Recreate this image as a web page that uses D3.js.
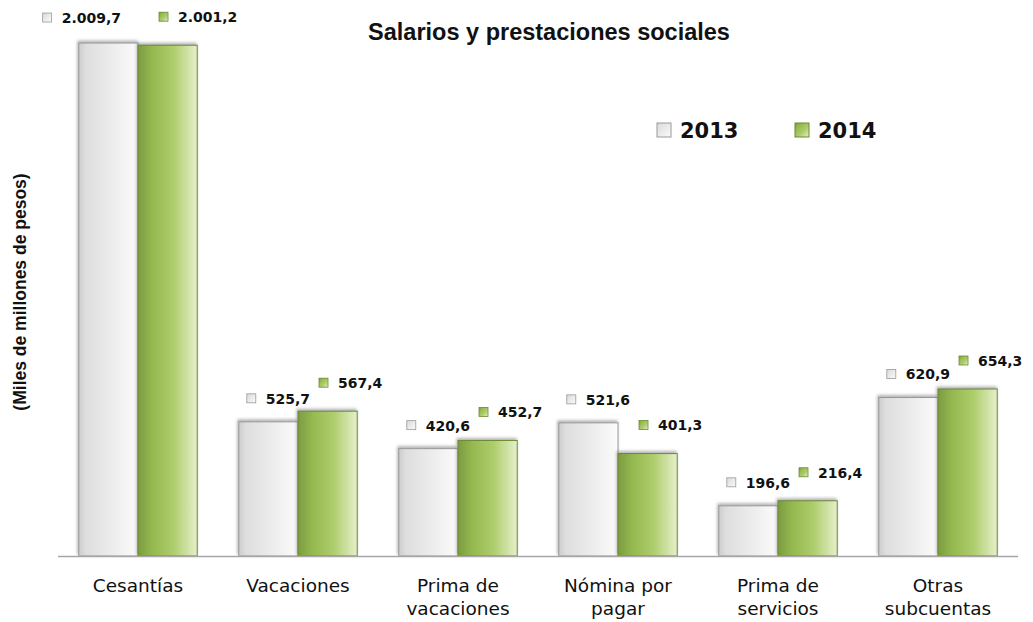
<!DOCTYPE html>
<html>
<head>
<meta charset="utf-8">
<script src="https://cdn.jsdelivr.net/npm/d3@7"></script>
<style>
  body { margin: 0; background: #fff; }
  text { font-family: "DejaVu Sans", Verdana, sans-serif; }
</style>
</head>
<body>
<div id="chart"></div>
<script>
// data
const categories = [
    ["Cesantías"],
    ["Vacaciones"],
    ["Prima de", "vacaciones"],
    ["Nómina por", "pagar"],
    ["Prima de", "servicios"],
    ["Otras", "subcuentas"]
];
const years = ["2013", "2014"];
const values2013 = [2009.7, 525.7, 420.6, 521.6, 196.6, 620.9];
const values2014 = [2001.2, 567.4, 452.7, 401.3, 216.4, 654.3];

const W = 1033, H = 622;
const margin = { top: 20, right: 15, bottom: 66, left: 58 };
const width = W - margin.left - margin.right;
const height = H - margin.top - margin.bottom;

// number format like 2.009,7
const esFormat = d3.formatLocale({ decimal: ",", thousands: ".", grouping: [3], currency: ["", ""] }).format(",.1f");

const svg = d3.select("#chart")
    .append("svg")
    .attr("width", W)
    .attr("height", H);

const defs = svg.append("defs");

// horizontal gradients for bars
const gradStops = {
    "2013": [["0%", "#cdcdcd"], ["12%", "#dedede"], ["55%", "#ececec"], ["100%", "#fbfbfb"]],
    "2014": [["0%", "#7c9c40"], ["25%", "#96b950"], ["60%", "#aecd6c"], ["100%", "#e6f0cc"]]
};
years.forEach(y => {
    const g = defs.append("linearGradient")
        .attr("id", "grad" + y)
        .attr("x1", "0").attr("x2", "1").attr("y1", "0").attr("y2", "0");
    gradStops[y].forEach(s => g.append("stop").attr("offset", s[0]).attr("stop-color", s[1]));
    const gi = defs.append("linearGradient")
        .attr("id", "icon" + y)
        .attr("x1", "0").attr("x2", "1").attr("y1", "0").attr("y2", "1");
    gradStops[y].forEach(s => gi.append("stop").attr("offset", s[0]).attr("stop-color", s[1]));
});
const strokeCol = { "2013": "#9a9a9a", "2014": "#6a8a34" };

// soft shadow along the top edge
const filt = defs.append("filter").attr("id", "shadow")
    .attr("x", "-10%").attr("y", "-10%").attr("width", "120%").attr("height", "120%");
filt.append("feDropShadow")
    .attr("dx", -1).attr("dy", -2).attr("stdDeviation", 1.5)
    .attr("flood-color", "#777").attr("flood-opacity", 0.55);

const g = svg.append("g").attr("transform", `translate(${margin.left}, ${margin.top})`);

const xScale = d3.scaleBand()
    .domain(d3.range(categories.length))
    .range([0, width])
    .paddingInner(0.26)
    .paddingOuter(0.13);

const xSub = d3.scaleBand()
    .domain(years)
    .range([0, xScale.bandwidth()]);

const yScale = d3.scaleLinear()
    .domain([0, 2100])
    .range([height, 0]);

const data = categories.map((c, i) => ({ i: i, vals: [
    { year: "2013", value: values2013[i] },
    { year: "2014", value: values2014[i] }
]}));

// bars
const groups = g.selectAll("g.cat")
    .data(data)
    .join("g")
    .attr("class", "cat")
    .attr("transform", d => `translate(${xScale(d.i)}, 0)`);

groups.selectAll("rect")
    .data(d => d.vals)
    .join("rect")
    .attr("x", d => xSub(d.year))
    .attr("y", d => yScale(d.value))
    .attr("width", xSub.bandwidth())
    .attr("height", d => height - yScale(d.value))
    .attr("fill", d => `url(#grad${d.year})`)
    .attr("stroke", d => strokeCol[d.year])
    .attr("stroke-width", 1)
    .attr("filter", "url(#shadow)");

// x axis line
g.append("line")
    .attr("x1", 0).attr("x2", width)
    .attr("y1", height + 0.5).attr("y2", height + 0.5)
    .attr("stroke", "#a6a6a6")
    .attr("stroke-width", 1.5);

// value labels: icon + number
const labelLift = { "2013": 23, "2014": 28 };
const labelShift = { "2013": 8, "2014": 21 };
const labels = groups.selectAll("g.lbl")
    .data(d => d.vals)
    .join("g")
    .attr("class", "lbl")
    .attr("transform", d => `translate(${xSub(d.year) + labelShift[d.year]}, ${yScale(d.value) - labelLift[d.year]})`);

labels.append("rect")
    .attr("x", 0).attr("y", -5)
    .attr("width", 9).attr("height", 9)
    .attr("fill", d => `url(#icon${d.year})`)
    .attr("stroke", d => strokeCol[d.year])
    .attr("stroke-width", 0.8);

labels.append("text")
    .attr("x", 19)
    .attr("y", 0)
    .attr("dy", "0.35em")
    .style("font-size", "14px")
    .style("font-weight", "bold")
    .style("fill", "#111")
    .text(d => esFormat(d.value));

// push a 2013 label to the left when it sits on the same line as the 2014 label
groups.each(function (d) {
    const lbl = d3.select(this).selectAll("g.lbl").nodes();
    const y0 = yScale(d.vals[0].value) - labelLift["2013"];
    const y1 = yScale(d.vals[1].value) - labelLift["2014"];
    const x0 = xSub("2013") + labelShift["2013"];
    const x1 = xSub("2014") + labelShift["2014"];
    const w0 = 19 + d3.select(lbl[0]).select("text").node().getComputedTextLength();
    if (Math.abs(y0 - y1) < 6 && x0 + w0 > x1 - 10) {
        const nx = x1 - 38 - w0;
        d3.select(lbl[0]).attr("transform", `translate(${nx}, ${y0 - 2})`);
    }
});

// category labels
const catText = g.selectAll("text.cat")
    .data(categories)
    .join("text")
    .attr("class", "cat")
    .attr("x", (d, i) => xScale(i) + xScale.bandwidth() / 2)
    .attr("y", height + 36)
    .attr("text-anchor", "middle")
    .style("font-size", "18.5px")
    .style("fill", "#111");

catText.selectAll("tspan")
    .data(d => d)
    .join("tspan")
    .attr("x", function () { return d3.select(this.parentNode).attr("x"); })
    .attr("dy", (d, i) => i === 0 ? 0 : 23)
    .text(d => d);

// y axis title
svg.append("text")
    .attr("transform", `translate(26, ${292}) rotate(-90)`)
    .attr("text-anchor", "middle")
    .style("font-family", "'Liberation Sans Narrow', 'Liberation Sans', sans-serif")
    .style("font-size", "17.5px")
    .style("font-weight", "bold")
    .style("fill", "#111")
    .text("(Miles de millones de pesos)");

// title
svg.append("text")
    .attr("x", 549)
    .attr("y", 40)
    .attr("text-anchor", "middle")
    .style("font-family", "'Liberation Sans', Arial, sans-serif")
    .style("font-size", "23.5px")
    .style("font-weight", "bold")
    .style("fill", "#111")
    .text("Salarios y prestaciones sociales");

// legend
const legend = svg.append("g")
    .attr("transform", "translate(657, 130)");

const legItem = legend.selectAll("g")
    .data(years)
    .join("g")
    .attr("transform", (d, i) => `translate(${i * 138}, 0)`);

legItem.append("rect")
    .attr("x", 0).attr("y", -7)
    .attr("width", 14).attr("height", 14)
    .attr("fill", d => `url(#icon${d})`)
    .attr("stroke", d => strokeCol[d])
    .attr("stroke-width", 1);

legItem.append("text")
    .attr("x", 23)
    .attr("y", 0)
    .attr("dy", "0.36em")
    .style("font-size", "21px")
    .style("font-weight", "bold")
    .style("fill", "#111")
    .text(d => d);
</script>
</body>
</html>
